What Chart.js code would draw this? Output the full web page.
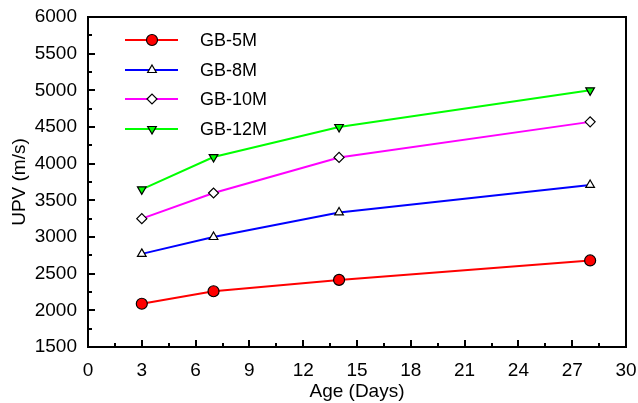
<!DOCTYPE html>
<html><head><meta charset="utf-8">
<script src="https://cdn.jsdelivr.net/npm/chart.js@4/dist/chart.umd.min.js"></script>
<style>html,body{margin:0;padding:0;background:#fff}#wrap{width:638px;height:403px}</style>
</head><body><div id="wrap"><canvas id="c" width="638" height="403"></canvas></div>
<script>
const days = [3, 7, 14, 28];
const gb5 = [2090, 2260, 2415, 2680];
const gb8 = [2770, 3000, 3335, 3710];
const gb10 = [3250, 3600, 4085, 4570];
const gb12 = [3650, 4090, 4500, 5000];
const seriesNames = ['GB-5M', 'GB-8M', 'GB-10M', 'GB-12M'];
const xTicks = [0, 3, 6, 9, 12, 15, 18, 21, 24, 27, 30];
const yTicks = [1500, 2000, 2500, 3000, 3500, 4000, 4500, 5000, 5500, 6000];

const FONT = 'Arial, "Liberation Sans", sans-serif';
const pts = v => days.map((d, i) => ({x: d, y: v[i]}));
const styles = [
  {c: '#ff0000', ps: 'circle', bg: '#ff0000', r: 5.5, rot: 0},
  {c: '#0000ff', ps: 'triangle', bg: '#ffffff', r: 5, rot: 0},
  {c: '#ff00ff', ps: 'rectRot', bg: '#ffffff', r: 5, rot: 0},
  {c: '#00ff00', ps: 'triangle', bg: '#00ff00', r: 5, rot: 180}
];
const allVals = [gb5, gb8, gb10, gb12];
const datasets = allVals.map((v, i) => ({
  label: seriesNames[i], data: pts(v), showLine: true,
  borderColor: styles[i].c, borderWidth: 2,
  pointStyle: styles[i].ps, pointRotation: styles[i].rot,
  pointRadius: styles[i].r, pointBackgroundColor: styles[i].bg,
  pointBorderColor: '#000', pointBorderWidth: 1.2, pointHoverRadius: styles[i].r
}));

const framePlugin = {
  id: 'frame',
  afterDraw(chart) {
    const ctx = chart.ctx, a = chart.chartArea;
    const xs = chart.scales.x, ys = chart.scales.y;
    ctx.save();
    ctx.strokeStyle = '#000'; ctx.lineWidth = 2;
    ctx.strokeRect(a.left, a.top, a.right - a.left, a.bottom - a.top);
    ctx.lineWidth = 2;
    ctx.beginPath();
    for (let v = 0; v <= 30; v += 1.5) {
      const px = Math.round(xs.getPixelForValue(v));
      const major = Math.abs(v % 3) < 1e-6;
      ctx.moveTo(px, a.bottom); ctx.lineTo(px, a.bottom - (major ? 7 : 4));
    }
    for (let v = 1500; v <= 6000; v += 250) {
      const py = Math.round(ys.getPixelForValue(v));
      const major = v % 500 === 0;
      ctx.moveTo(a.left, py); ctx.lineTo(a.left + (major ? 7 : 4), py);
    }
    ctx.stroke();
    // legend
    const rowY = [40, 70, 99, 129];
    ctx.font = '18px ' + FONT;
    ctx.textBaseline = 'middle';
    datasets.forEach((ds, i) => {
      const y = rowY[i];
      ctx.strokeStyle = ds.borderColor; ctx.lineWidth = 2;
      ctx.beginPath(); ctx.moveTo(125, y); ctx.lineTo(178, y); ctx.stroke();
      ctx.fillStyle = ds.pointBackgroundColor; ctx.strokeStyle = '#000'; ctx.lineWidth = 1.2;
      Chart.helpers.drawPoint(ctx, {pointStyle: ds.pointStyle, rotation: ds.pointRotation, radius: ds.pointRadius, borderWidth: 1.2}, 152, y);
      ctx.fillStyle = '#000';
      ctx.fillText(ds.label, 200, y + 1);
    });
    ctx.restore();
  }
};

new Chart(document.getElementById('c'), {
  type: 'scatter',
  data: {datasets},
  options: {
    responsive: false, animation: false, devicePixelRatio: 1,
    layout: {padding: {left: 0, right: 12, top: 17, bottom: 0}},
    plugins: {legend: {display: false}, tooltip: {enabled: false}},
    scales: {
      x: {
        type: 'linear', min: 0, max: 30,
        afterBuildTicks: s => { s.ticks = xTicks.map(v => ({value: v})); },
        afterFit: s => { s.height = 56; s.paddingLeft = 0; s.paddingRight = 0; },
        grid: {display: false}, border: {display: false},
        ticks: {color: '#000', font: {family: FONT, size: 19}, padding: 4, maxRotation: 0, callback: v => String(v)},
        title: {display: true, text: 'Age (Days)', color: '#000', font: {family: FONT, size: 19}, padding: {top: 0, bottom: 0}}
      },
      y: {
        type: 'linear', min: 1500, max: 6000,
        afterBuildTicks: s => { s.ticks = yTicks.map(v => ({value: v})); },
        afterFit: s => { s.width = 88; s.paddingTop = 0; s.paddingBottom = 0; },
        grid: {display: false}, border: {display: false},
        ticks: {color: '#000', font: {family: FONT, size: 19}, padding: 3, callback: v => String(v)},
        title: {display: true, text: 'UPV (m/s)', color: '#000', font: {family: FONT, size: 19}, padding: {top: 8, bottom: 0}}
      }
    }
  },
  plugins: [framePlugin]
});
</script></body></html>
